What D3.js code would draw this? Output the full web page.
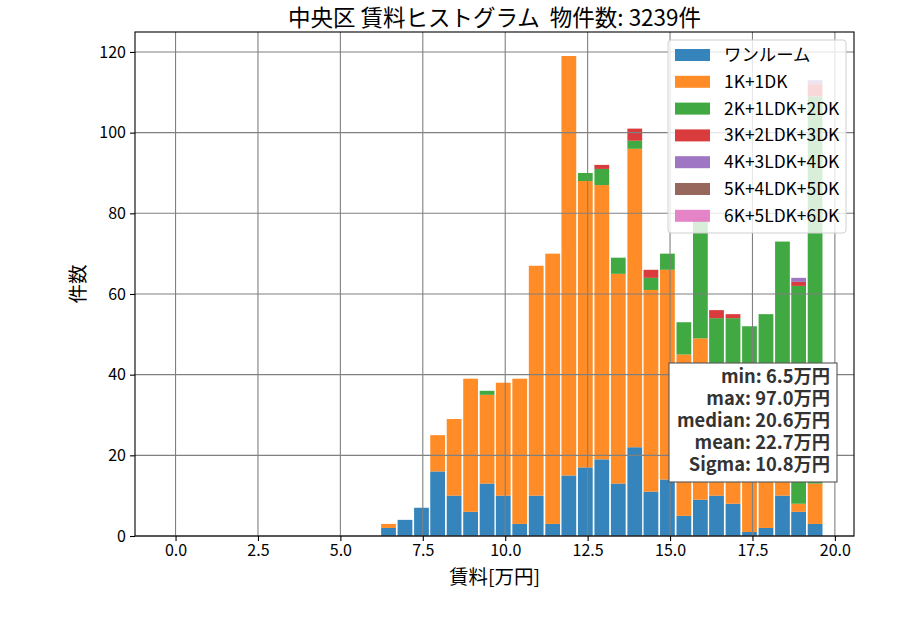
<!DOCTYPE html>
<html>
<head>
<meta charset="utf-8">
<script src="https://cdn.jsdelivr.net/npm/d3@7"></script>
<style>
    body { margin: 0; background: #fff; }
    text { font-family: "Noto Sans CJK JP", "Noto Sans", sans-serif; }
</style>
</head>
<body>
<div id="graph"></div>
<script>
// Centres des classes (万円)
const binCenters = [6.46, 6.96, 7.46, 7.95, 8.45, 8.95, 9.45, 9.94, 10.44, 10.94, 11.44, 11.93, 12.43,
    12.93, 13.43, 13.93, 14.42, 14.92, 15.42, 15.92, 16.41, 16.91, 17.41, 17.91, 18.41, 18.90, 19.40]
const binWidth = 0.4977

// Types de logement
const categories = ['ワンルーム', '1K+1DK', '2K+1LDK+2DK', '3K+2LDK+3DK', '4K+3LDK+4DK', '5K+4LDK+5DK', '6K+5LDK+6DK']
const colors = ['#1f77b4', '#ff7f0e', '#2ca02c', '#d62728', '#9467bd', '#8c564b', '#e377c2']

// Nombre de biens par classe, pour chaque type
const oneRoom = [2, 4, 7, 16, 10, 6, 13, 10, 3, 10, 3, 15, 17, 19, 13, 22, 11, 14, 5, 9, 10, 8, 1, 2, 10, 6, 3]
const k1 = [1, 0, 0, 9, 19, 33, 22, 28, 36, 57, 67, 104, 71, 68, 52, 74, 50, 52, 40, 40, 30, 25, 22, 18, 12, 2, 10]
const k2 = [0, 0, 0, 0, 0, 0, 1, 0, 0, 0, 0, 0, 2, 4, 4, 2, 3, 4, 8, 30, 14, 21, 29, 35, 51, 54, 96]
const k3 = [0, 0, 0, 0, 0, 0, 0, 0, 0, 0, 0, 0, 0, 1, 0, 3, 2, 0, 0, 0, 2, 1, 0, 0, 0, 1, 3]
const k4 = [0, 0, 0, 0, 0, 0, 0, 0, 0, 0, 0, 0, 0, 0, 0, 0, 0, 0, 0, 0, 0, 0, 0, 0, 0, 1, 1]
const k5 = [0, 0, 0, 0, 0, 0, 0, 0, 0, 0, 0, 0, 0, 0, 0, 0, 0, 0, 0, 0, 0, 0, 0, 0, 0, 0, 0]
const k6 = [0, 0, 0, 0, 0, 0, 0, 0, 0, 0, 0, 0, 0, 0, 0, 0, 0, 0, 0, 0, 0, 0, 0, 0, 0, 0, 0]
const series = [oneRoom, k1, k2, k3, k4, k5, k6]

// Ticks et statistiques
const xTicks = [0, 2.5, 5, 7.5, 10, 12.5, 15, 17.5, 20]
const yTicks = [0, 20, 40, 60, 80, 100, 120]
const stats = ['min: 6.5万円', 'max: 97.0万円', 'median: 20.6万円', 'mean: 22.7万円', 'Sigma: 10.8万円']

/* ------------------------------------------------------------------------------
    GRAPH
------------------------------------------------------------------------------ */
const margin = { top: 32, right: 46, bottom: 94, left: 135 },
    width = 900 - margin.left - margin.right,
    height = 630 - margin.top - margin.bottom

const svg = d3.select('#graph')
    .append('svg')
    .attr('width', 900)
    .attr('height', 630)
    .append('g')
    .attr('transform', 'translate(' + margin.left + ',' + margin.top + ')')

const x = d3.scaleLinear()
    .domain([-1.23, 20.58])
    .range([0, width])

const y = d3.scaleLinear()
    .domain([0, 124.95])
    .range([height, 0])

// Empilement des séries
const table = binCenters.map((c, i) => {
    const row = { center: c }
    categories.forEach((cat, j) => { row[cat] = series[j][i] })
    return row
})
const stacked = d3.stack().keys(categories)(table)

/* ------------------------------------------------------------------------------
    BARRES
------------------------------------------------------------------------------ */
const barW = binWidth * 0.9
svg.append('g')
    .selectAll('g')
    .data(stacked)
    .join('g')
    .attr('fill', (d, i) => colors[i])
    .attr('fill-opacity', 0.9)
    .selectAll('rect')
    .data(d => d.filter(p => p[1] > p[0]))
    .join('rect')
    .attr('x', d => x(d.data.center - barW / 2))
    .attr('width', d => x(barW) - x(0))
    .attr('y', d => y(d[1]))
    .attr('height', d => y(d[0]) - y(d[1]))

/* ------------------------------------------------------------------------------
    GRILLE + AXES
------------------------------------------------------------------------------ */
const grid = svg.append('g').attr('stroke', '#808080').attr('stroke-width', 1.1)
grid.selectAll('.gx')
    .data(xTicks)
    .join('line')
    .attr('x1', d => x(d)).attr('x2', d => x(d))
    .attr('y1', 0).attr('y2', height)
grid.selectAll('.gy')
    .data(yTicks)
    .join('line')
    .attr('x1', 0).attr('x2', width)
    .attr('y1', d => y(d)).attr('y2', d => y(d))

svg.append('g')
    .attr('transform', 'translate(0,' + height + ')')
    .call(d3.axisBottom(x).tickValues(xTicks).tickFormat(d3.format('.1f')).tickSizeOuter(0).tickSize(5).tickPadding(4))

svg.append('g')
    .call(d3.axisLeft(y).tickValues(yTicks).tickSizeOuter(0).tickSize(5).tickPadding(4))

svg.selectAll('.domain').remove()
svg.selectAll('.tick line').attr('stroke', '#000').attr('stroke-width', 1.1)
svg.selectAll('.tick text').attr('font-size', 16).attr('fill', '#000')
    .style('font-family', '"Noto Sans CJK JP", sans-serif')

// Cadre
svg.append('rect')
    .attr('width', width)
    .attr('height', height)
    .attr('fill', 'none')
    .attr('stroke', '#000')
    .attr('stroke-width', 1.1)

/* ------------------------------------------------------------------------------
    TEXTES
------------------------------------------------------------------------------ */
svg.append('text')
    .attr('x', width / 2)
    .attr('y', -6)
    .attr('text-anchor', 'middle')
    .attr('font-size', 22.5)
    .style('white-space', 'pre')
    .text('中央区 賃料ヒストグラム  物件数: 3239件')

svg.append('text')
    .attr('x', width / 2)
    .attr('y', height + 48)
    .attr('text-anchor', 'middle')
    .attr('font-size', 19.5)
    .text('賃料[万円]')

svg.append('text')
    .attr('transform', 'rotate(-90)')
    .attr('x', -height / 2)
    .attr('y', -50)
    .attr('text-anchor', 'middle')
    .attr('font-size', 19.5)
    .text('件数')

/* ------------------------------------------------------------------------------
    LEGENDE
------------------------------------------------------------------------------ */
const legend = svg.append('g').attr('transform', 'translate(' + (668 - margin.left) + ',' + (40 - margin.top) + ')')
legend.append('rect')
    .attr('width', 178)
    .attr('height', 193)
    .attr('rx', 3)
    .attr('fill', '#fff')
    .attr('fill-opacity', 0.8)
    .attr('stroke', '#d0d0d0')

const item = legend.selectAll('.item')
    .data(categories)
    .join('g')
    .attr('transform', (d, i) => 'translate(7,' + (15 + i * 26.8) + ')')
item.append('rect')
    .attr('y', -6)
    .attr('width', 35)
    .attr('height', 12)
    .attr('fill', (d, i) => colors[i])
    .attr('fill-opacity', 0.9)
item.append('text')
    .attr('x', 49)
    .attr('y', 6)
    .attr('font-size', 17.4)
    .text(d => d)

/* ------------------------------------------------------------------------------
    STATISTIQUES
------------------------------------------------------------------------------ */
const box = svg.append('g').attr('transform', 'translate(' + (669 - margin.left) + ',' + (363 - margin.top) + ')')
box.append('rect')
    .attr('width', 168)
    .attr('height', 119)
    .attr('fill', '#fff')
    .attr('stroke', '#555')
    .attr('stroke-width', 1.1)
box.selectAll('text')
    .data(stats)
    .join('text')
    .attr('x', 161)
    .attr('y', (d, i) => 20 + i * 22)
    .attr('text-anchor', 'end')
    .attr('font-size', 18.3)
    .attr('font-weight', 'bold')
    .attr('fill', '#333')
    .text(d => d)
</script>
</body>
</html>
